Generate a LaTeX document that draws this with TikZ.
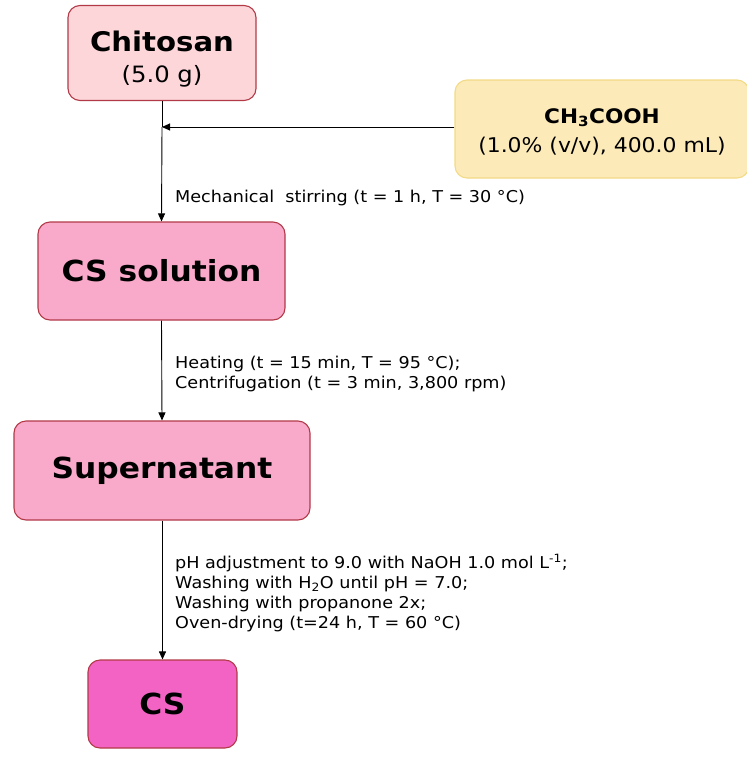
\documentclass[tikz,border=0pt]{standalone}
\usepackage{fontspec}
\setmainfont[FakeStretch=1.08]{DejaVu Sans}
\usetikzlibrary{arrows.meta}
\definecolor{cbord}{HTML}{B23A48}
\definecolor{chifill}{HTML}{FDD6D9}
\definecolor{solfill}{HTML}{F9A9C9}
\definecolor{csfill}{HTML}{F263C3}
\definecolor{acfill}{HTML}{FCEBB9}
\definecolor{acbord}{HTML}{F2DA86}
\tikzset{
  box/.style={draw=cbord, line width=1.1pt, rounded corners=12pt, align=center, inner sep=0pt},
  big/.style={font=\fontsize{29}{34}\selectfont\bfseries},
  txt/.style={align=center, inner sep=0pt},
  lab/.style={anchor=west, align=left, font=\fontsize{16.3}{19.8}\selectfont, inner sep=0pt},
  arr/.style={-{Triangle[length=8pt,width=7pt]}, line width=0.9pt},
  ln/.style={line width=0.9pt}
}
\begin{document}
\begin{tikzpicture}[x=1pt,y=-1pt]
\useasboundingbox (0,0) rectangle (747,758);
\node[box, fill=chifill, minimum width=188pt, minimum height=95pt] (chi) at (162,53) {};
\node[txt] (chit) at ([yshift=-6pt]chi.center)
  {\fontsize{27}{30}\selectfont\bfseries Chitosan\\[12pt]\fontsize{22.5}{27}\selectfont (5.0 g)};
\node[box, draw=acbord, fill=acfill, minimum width=294pt, minimum height=98pt] (ac) at (602,129) {};
\node[txt] (act) at ([yshift=-3pt]ac.center)
  {\fontsize{20}{24}\selectfont\bfseries CH\textsubscript{3}COOH\\[9pt]\fontsize{20.3}{25}\selectfont (1.0\% (v/v), 400.0 mL)};
\node[box, big, fill=solfill, minimum width=247pt, minimum height=98pt] (sol) at (161.5,271) {CS solution};
\node[box, big, fill=solfill, minimum width=296pt, minimum height=99pt] (sup) at (162,470.5) {Supernatant};
\node[box, big, fill=csfill, minimum width=149pt, minimum height=88pt] (cs) at (162.5,704) {CS};
\coordinate (j) at (162,127);
\draw[ln] (chi.south) -- (j);
\draw[arr] (j) -- (sol.north);
\draw[arr] (ac.west |- j) -- (j);
\draw[arr] (sol.south) -- (sup.north);
\draw[arr] (sup.south -| cs.north) -- (cs.north);
\node[lab] (l1) at (175,198) {Mechanical\ \ stirring (t = 1 h, T = 30 °C)};
\node[lab] (l2) at (175,374) {Heating (t = 15 min, T = 95 °C);\\Centrifugation (t = 3 min, 3,800 rpm)};
\node[lab] (l3) at (175,593) {pH adjustment to 9.0 with NaOH 1.0 mol L\textsuperscript{-1};\\Washing with H\textsubscript{2}O until pH = 7.0;\\Washing with propanone 2x;\\Oven-drying (t=24 h, T = 60 °C)};
\end{tikzpicture}
\end{document}
